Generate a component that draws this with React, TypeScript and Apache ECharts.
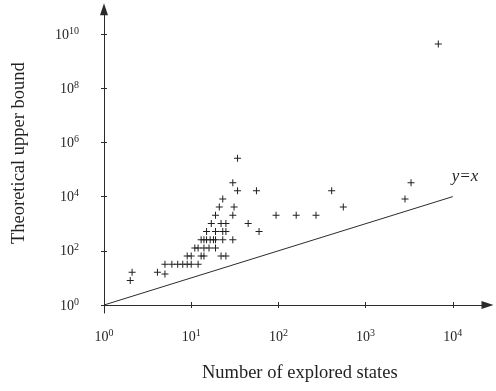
import { useEffect, useRef } from 'react';
import * as echarts from 'echarts';

// Number of explored states (x) and theoretical upper bound (y)
const exploredStates = [
  2, 2.1, 4.1, 5,
  5, 6, 7, 8, 9, 10, 12,
  9, 10, 13, 14, 22, 25,
  11, 12, 14, 16, 19,
  13, 14, 15, 16.5, 18, 19, 23, 30,
  15, 19, 23, 25, 60,
  17, 22, 25, 45,
  19, 30, 94, 160, 270,
  21, 31, 555,
  23, 2830,
  34, 56, 408,
  30, 3320,
  34,
  6820,
];
const upperBounds = [
  8, 16, 16, 14,
  32, 32, 32, 32, 32, 32, 32,
  64, 64, 64, 64, 64, 64,
  128, 128, 128, 128, 128,
  256, 256, 256, 256, 256, 256, 256, 256,
  512, 512, 512, 512, 512,
  1024, 1024, 1024, 1024,
  2048, 2048, 2048, 2048, 2048,
  4096, 4096, 4096,
  8192, 8192,
  16384, 16384, 16384,
  32768, 32768,
  262144,
  4294967296,
];
const identityLine = [1, 10000];
const xRange = [1, 10000];
const yRange = [1, 1e10];

const FONT = 'Liberation Serif';
const INK = '#231f20';
const AXIS = '#2b2b2b';

const powLabel = (v: number) => {
  const e = Math.log10(v);
  const r = Math.round(e);
  if (Math.abs(e - r) > 1e-6) return '';
  return `{b|10}{s|${r}}`;
};
const rich = {
  b: { fontFamily: FONT, fontSize: 14, lineHeight: 18, color: INK },
  s: { fontFamily: FONT, fontSize: 10, lineHeight: 10, color: INK, verticalAlign: 'top' as const },
};

export default function App() {
  const ref = useRef<HTMLDivElement>(null);
  useEffect(() => {
    if (!ref.current) return;
    const chart = echarts.init(ref.current, undefined, { renderer: 'svg' });
    const points = exploredStates.map((x, i) => [x, upperBounds[i]]);
    const cross = 'path://M3,0H4V7H3Z M0,3H7V4H0Z';
    const mainRect = { left: 104, top: 34, width: 348.8, height: 271 };
    chart.setOption({
      animation: false,
      textStyle: { fontFamily: FONT },
      grid: [
        { ...mainRect, outerBoundsMode: 'none' },
        { ...mainRect, outerBoundsMode: 'none' },
        { left: 104, top: 9.2, width: 50, height: 303.8, outerBoundsMode: 'none' },
        { left: 104, top: 295, width: 383.5, height: 10, outerBoundsMode: 'none' },
      ],
      xAxis: [
        {
          gridIndex: 0, type: 'log', logBase: 10, min: xRange[0], max: xRange[1], interval: 1,
          axisLine: { show: false },
          axisTick: { show: true, inside: false, length: 3, lineStyle: { color: AXIS } },
          axisLabel: { formatter: powLabel, rich, margin: 22, showMinLabel: true, showMaxLabel: true },
          splitLine: { show: false }, minorTick: { show: false },
        },
        {
          gridIndex: 1, type: 'log', logBase: 10, min: xRange[0], max: xRange[1], interval: 1,
          axisLine: { show: false },
          axisTick: { show: true, inside: true, length: 3, lineStyle: { color: AXIS } },
          axisLabel: { show: false }, splitLine: { show: false },
        },
        { gridIndex: 2, type: 'value', min: 0, max: 1, show: false },
        {
          gridIndex: 3, type: 'value', min: 0, max: 1,
          name: 'Number of explored states', nameLocation: 'middle', nameGap: 57,
          nameTextStyle: { fontFamily: FONT, fontSize: 18.5, color: INK, padding: [0, 0, 0, 8] },
          axisLine: { show: true, symbol: ['none', 'triangle'], symbolSize: [8, 12], lineStyle: { color: AXIS, width: 1 } },
          axisTick: { show: false }, axisLabel: { show: false }, splitLine: { show: false },
        },
      ],
      yAxis: [
        {
          gridIndex: 0, type: 'log', logBase: 10, min: yRange[0], max: yRange[1], interval: 2,
          axisLine: { show: false },
          axisTick: { show: true, inside: false, length: 3, lineStyle: { color: AXIS } },
          axisLabel: { formatter: powLabel, rich, margin: 25, showMinLabel: true, showMaxLabel: true },
          splitLine: { show: false }, minorTick: { show: false },
        },
        {
          gridIndex: 1, type: 'log', logBase: 10, min: yRange[0], max: yRange[1], interval: 2,
          axisLine: { show: false },
          axisTick: { show: true, inside: true, length: 3, lineStyle: { color: AXIS } },
          axisLabel: { show: false }, splitLine: { show: false },
        },
        {
          gridIndex: 2, type: 'value', min: 0, max: 1,
          name: 'Theoretical upper bound', nameLocation: 'middle', nameGap: 77, nameRotate: 90,
          nameTextStyle: { fontFamily: FONT, fontSize: 18.5, color: INK, padding: [0, 0, 0, 16] },
          axisLine: { show: true, symbol: ['none', 'triangle'], symbolSize: [8, 12], lineStyle: { color: AXIS, width: 1 } },
          axisTick: { show: false }, axisLabel: { show: false }, splitLine: { show: false },
        },
        { gridIndex: 3, type: 'value', min: 0, max: 1, show: false },
      ],
      series: [
        {
          type: 'scatter', xAxisIndex: 0, yAxisIndex: 0,
          data: points, symbol: cross, symbolSize: 7,
          itemStyle: { color: INK, opacity: 1 },
        },
        {
          type: 'line', xAxisIndex: 0, yAxisIndex: 0,
          data: [[identityLine[0], identityLine[0]], [identityLine[1], identityLine[1]]],
          symbol: 'none', lineStyle: { color: AXIS, width: 1 },
          endLabel: {
            show: true, formatter: 'y=x', fontFamily: FONT, fontStyle: 'italic',
            fontSize: 17, color: INK, offset: [-9, -21],
          },
        },
      ],
    });
    return () => chart.dispose();
  }, []);
  return <div ref={ref} style={{ position: 'fixed', left: 0, top: 0, width: 496, height: 391 }} />;
}
